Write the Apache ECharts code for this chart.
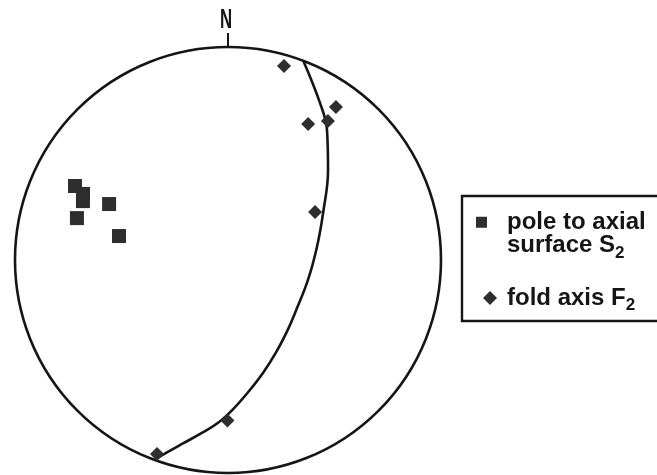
<!DOCTYPE html>
<html><head><meta charset="utf-8">
<style>html,body{margin:0;padding:0;background:#fff}#c{width:657px;height:475px}</style>
<script src="https://cdn.jsdelivr.net/npm/echarts@6/dist/echarts.min.js"></script>
</head><body><div id="c"></div>
<script>
// Each point: [projected radius (0 = centre, 1 = primitive circle), azimuth in degrees clockwise from N]
const polesS2 = [[0.798, 295.8], [0.748, 294.5], [0.735, 292.1], [0.617, 295.2], [0.736, 285.5], [0.524, 282.4]];
const foldAxesF2 = [[0.948, 16.1], [0.879, 35.2], [0.741, 30.5], [0.804, 35.7], [0.467, 61.1], [0.754, 180.2], [0.970, 200.1]];
const greatCircle = [[1.0, 20.7], [0.854, 30.4], [0.767, 37.3], [0.632, 48.0], [0.498, 63.7], [0.422, 81.7], [0.387, 104.0],
  [0.401, 128.3], [0.432, 139.6], [0.488, 152.4], [0.555, 162.8], [0.631, 171.7], [0.705, 178.4], [0.767, 183.6],
  [0.827, 189.1], [0.887, 193.8], [0.948, 197.6], [1.0, 200.2]];
const northLabel = 'N';
const seriesNames = ['pole to axial surface S2', 'fold axis F2'];

const FONT = 'Liberation Sans, Arial, sans-serif';
const ink = '#151515';
const markInk = '#2e2e2e';
const rich = {
  t: { fontFamily: FONT, fontWeight: 'bold', fontSize: 24, lineHeight: 23.5, color: ink },
  sub: { fontFamily: FONT, fontWeight: 'bold', fontSize: 17, lineHeight: 23.5, color: ink, verticalAlign: 'top', padding: [11, 0, 0, 0] }
};

const chart = echarts.init(document.getElementById('c'), null, { renderer: 'canvas' });
chart.setOption({
  animation: false,
  backgroundColor: '#fff',
  polar: { center: [228, 260], radius: 213 },
  angleAxis: {
    type: 'value', min: 0, max: 360, interval: 360, startAngle: 90, clockwise: true,
    axisLine: { show: true, lineStyle: { color: ink, width: 2.6 } },
    axisTick: { show: true, inside: false, length: 14, lineStyle: { color: ink, width: 2 } },
    axisLabel: { show: false },
    splitLine: { show: false }, splitArea: { show: false }
  },
  radiusAxis: { type: 'value', min: 0, max: 1, show: false },
  legend: [
    {
      data: [seriesNames[0]], left: 476, top: 187, padding: 0, orient: 'vertical',
      itemWidth: 11, itemHeight: 11, icon: 'rect',
      formatter: () => '{t|pole to axial}\n{t|surface S}{sub|2}',
      textStyle: { fontFamily: FONT, fontWeight: 'bold', fontSize: 24, lineHeight: 23.5, color: ink, padding: [23.5, 0, 0, 15], rich: rich }
    },
    {
      data: [seriesNames[1]], left: 483, top: 286, padding: 0, orient: 'vertical',
      itemWidth: 14, itemHeight: 14, icon: 'diamond',
      formatter: () => '{t|fold axis F}{sub|2}',
      textStyle: { fontFamily: FONT, fontWeight: 'bold', fontSize: 24, lineHeight: 23.5, color: ink, padding: [0, 0, 0, 5], rich: rich }
    }
  ],
  graphic: [
    { type: 'rect', shape: { x: 462, y: 196, width: 215, height: 125 }, style: { fill: 'none', stroke: ink, lineWidth: 2.4 }, silent: true },
    { type: 'text', x: 226, y: 20, scaleX: 0.6, style: { text: northLabel, font: 'bold 28px ' + FONT, fill: ink, align: 'center', verticalAlign: 'middle' }, silent: true }
  ],
  series: [
    {
      name: 'great circle', type: 'line', coordinateSystem: 'polar', data: greatCircle,
      smooth: 0.4, showSymbol: false, symbol: 'none', silent: true,
      lineStyle: { color: ink, width: 2.6 }, z: 2
    },
    {
      name: seriesNames[0], type: 'scatter', coordinateSystem: 'polar', data: polesS2,
      symbol: 'rect', symbolSize: 14, itemStyle: { color: markInk, opacity: 1 }, z: 3
    },
    {
      name: seriesNames[1], type: 'scatter', coordinateSystem: 'polar', data: foldAxesF2,
      symbol: 'diamond', symbolSize: 14, itemStyle: { color: markInk, opacity: 1 }, z: 3
    }
  ]
});
</script>
</body></html>
